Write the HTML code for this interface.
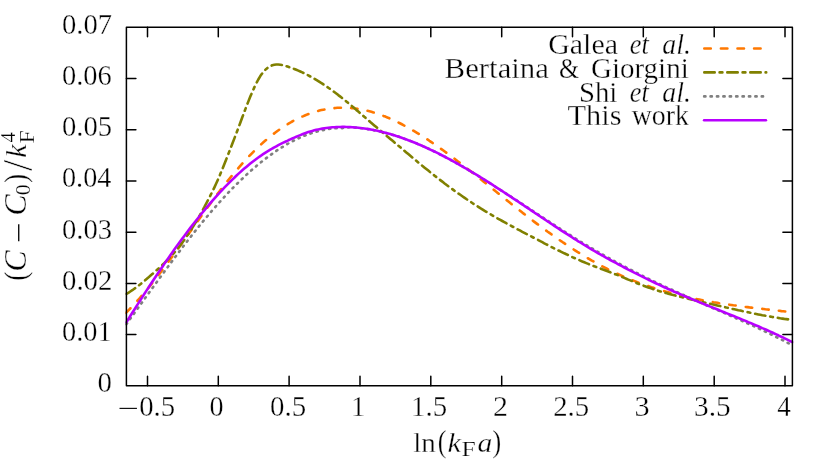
<!DOCTYPE html>
<html><head><meta charset="utf-8"><title>plot</title>
<style>html,body{margin:0;padding:0;background:#fff}svg{display:block}</style></head>
<body>
<svg width="830" height="461" viewBox="0 0 830 461">
<rect width="830" height="461" fill="#fff"/>
<defs><clipPath id="c"><rect x="125.4" y="26.3" width="668.0" height="360.5"/></clipPath></defs>
<g fill="none" stroke-linecap="round" stroke-linejoin="round" stroke-width="2.6" clip-path="url(#c)">
<path d="M125.4,313.4 L127.4,311.4 L129.4,309.3 L131.4,307.3 L133.4,305.1 L135.4,303.0 L137.4,300.7 L139.4,298.5 L141.4,296.2 L143.4,293.8 L145.4,291.5 L147.4,289.1 L149.4,286.6 L151.4,284.1 L153.4,281.6 L155.4,279.1 L157.4,276.5 L159.4,273.9 L161.4,271.3 L163.4,268.6 L165.4,265.9 L167.4,263.2 L169.4,260.5 L171.4,257.8 L173.4,255.1 L175.4,252.3 L177.4,249.5 L179.4,246.7 L181.4,243.9 L183.4,241.1 L185.4,238.3 L187.4,235.5 L189.4,232.7 L191.4,229.9 L193.4,227.1 L195.4,224.3 L197.4,221.5 L199.4,218.7 L201.4,215.9 L203.4,213.1 L205.4,210.4 L207.4,207.6 L209.4,204.9 L211.4,202.2 L213.4,199.5 L215.4,196.8 L217.4,194.1 L219.4,191.5 L221.4,188.9 L223.4,186.3 L225.4,183.8 L227.4,181.2 L229.4,178.8 L231.4,176.3 L233.4,173.9 L235.4,171.5 L237.4,169.2 L239.4,166.9 L241.4,164.6 L243.4,162.4 L245.4,160.2 L247.4,158.0 L249.4,155.9 L251.4,153.8 L253.4,151.8 L255.4,149.8 L257.4,147.9 L259.4,146.0 L261.4,144.1 L263.4,142.3 L265.4,140.6 L267.4,138.9 L269.4,137.2 L271.4,135.6 L273.4,134.0 L275.4,132.5 L277.4,131.0 L279.4,129.6 L281.4,128.2 L283.4,126.9 L285.4,125.6 L287.4,124.4 L289.4,123.2 L291.4,122.0 L293.4,120.9 L295.4,119.8 L297.4,118.8 L299.4,117.9 L301.4,116.9 L303.4,116.1 L305.4,115.2 L307.4,114.4 L309.4,113.7 L311.4,113.0 L313.4,112.3 L315.4,111.7 L317.4,111.2 L319.4,110.6 L321.4,110.1 L323.4,109.7 L325.4,109.3 L327.4,109.0 L329.4,108.7 L331.4,108.4 L333.4,108.2 L335.4,108.0 L337.4,107.8 L339.4,107.8 L341.4,107.7 L343.4,107.7 L345.4,107.7 L347.4,107.8 L349.4,107.9 L351.4,108.1 L353.4,108.3 L355.4,108.5 L357.4,108.8 L359.4,109.1 L361.4,109.5 L363.4,109.9 L365.4,110.3 L367.4,110.8 L369.4,111.3 L371.4,111.8 L373.4,112.4 L375.4,113.0 L377.4,113.7 L379.4,114.4 L381.4,115.1 L383.4,115.9 L385.4,116.6 L387.4,117.5 L389.4,118.3 L391.4,119.2 L393.4,120.1 L395.4,121.0 L397.4,122.0 L399.4,123.0 L401.4,124.0 L403.4,125.1 L405.4,126.1 L407.4,127.2 L409.4,128.3 L411.4,129.5 L413.4,130.7 L415.4,131.9 L417.4,133.1 L419.4,134.3 L421.4,135.6 L423.4,136.8 L425.4,138.1 L427.4,139.4 L429.4,140.8 L431.4,142.1 L433.4,143.5 L435.4,144.9 L437.4,146.3 L439.4,147.7 L441.4,149.1 L443.4,150.5 L445.4,152.0 L447.4,153.5 L449.4,154.9 L451.4,156.4 L453.4,157.9 L455.4,159.4 L457.4,161.0 L459.4,162.5 L461.4,164.0 L463.4,165.6 L465.4,167.1 L467.4,168.7 L469.4,170.3 L471.4,171.8 L473.4,173.4 L475.4,175.0 L477.4,176.6 L479.4,178.2 L481.4,179.8 L483.4,181.4 L485.4,183.0 L487.4,184.6 L489.4,186.2 L491.4,187.8 L493.4,189.4 L495.4,191.1 L497.4,192.7 L499.4,194.3 L501.4,195.9 L503.4,197.5 L505.4,199.1 L507.4,200.7 L509.4,202.3 L511.4,203.9 L513.4,205.5 L515.4,207.1 L517.4,208.7 L519.4,210.2 L521.4,211.8 L523.4,213.4 L525.4,214.9 L527.4,216.5 L529.4,218.0 L531.4,219.5 L533.4,221.1 L535.4,222.6 L537.4,224.1 L539.4,225.6 L541.4,227.1 L543.4,228.5 L545.4,230.0 L547.4,231.5 L549.4,232.9 L551.4,234.3 L553.4,235.8 L555.4,237.2 L557.4,238.6 L559.4,240.0 L561.4,241.3 L563.4,242.7 L565.4,244.0 L567.4,245.4 L569.4,246.7 L571.4,248.0 L573.4,249.3 L575.4,250.6 L577.4,251.9 L579.4,253.1 L581.4,254.3 L583.4,255.6 L585.4,256.8 L587.4,258.0 L589.4,259.1 L591.4,260.3 L593.4,261.4 L595.4,262.6 L597.4,263.7 L599.4,264.8 L601.4,265.9 L603.4,266.9 L605.4,267.9 L607.4,269.0 L609.4,270.0 L611.4,271.0 L613.4,271.9 L615.4,272.9 L617.4,273.8 L619.4,274.7 L621.4,275.6 L623.4,276.5 L625.4,277.3 L627.4,278.2 L629.4,279.0 L631.4,279.8 L633.4,280.6 L635.4,281.4 L637.4,282.2 L639.4,282.9 L641.4,283.7 L643.4,284.4 L645.4,285.1 L647.4,285.8 L649.4,286.5 L651.4,287.2 L653.4,287.8 L655.4,288.5 L657.4,289.1 L659.4,289.7 L661.4,290.3 L663.4,290.9 L665.4,291.5 L667.4,292.0 L669.4,292.6 L671.4,293.1 L673.4,293.7 L675.4,294.2 L677.4,294.7 L679.4,295.2 L681.4,295.7 L683.4,296.1 L685.4,296.6 L687.4,297.1 L689.4,297.5 L691.4,297.9 L693.4,298.4 L695.4,298.8 L697.4,299.2 L699.4,299.6 L701.4,300.0 L703.4,300.4 L705.4,300.7 L707.4,301.1 L709.4,301.5 L711.4,301.8 L713.4,302.2 L715.4,302.5 L717.4,302.8 L719.4,303.2 L721.4,303.5 L723.4,303.8 L725.4,304.1 L727.4,304.4 L729.4,304.7 L731.4,305.0 L733.4,305.3 L735.4,305.5 L737.4,305.8 L739.4,306.1 L741.4,306.3 L743.4,306.6 L745.4,306.9 L747.4,307.1 L749.4,307.4 L751.4,307.6 L753.4,307.9 L755.4,308.1 L757.4,308.3 L759.4,308.6 L761.4,308.8 L763.4,309.0 L765.4,309.3 L767.4,309.5 L769.4,309.7 L771.4,309.9 L773.4,310.2 L775.4,310.4 L777.4,310.6 L779.4,310.8 L781.4,311.1 L783.4,311.3 L785.4,311.5 L786.5,311.6" stroke="#ff7800" stroke-dasharray="6.45 10.205" stroke-dashoffset="15.94"/>
<path d="M126.3,293.9 L128.3,292.8 L130.3,291.5 L132.3,290.2 L134.3,288.8 L136.3,287.4 L138.3,285.8 L140.3,284.3 L142.3,282.7 L144.3,281.0 L146.3,279.3 L148.3,277.6 L150.3,275.8 L152.3,274.1 L154.3,272.3 L156.3,270.5 L158.3,268.7 L160.3,266.9 L162.3,265.0 L164.3,263.1 L166.3,261.1 L168.3,259.1 L170.3,257.0 L172.3,254.8 L174.3,252.6 L176.3,250.3 L178.3,247.8 L180.3,245.3 L182.3,242.6 L184.3,239.9 L186.3,237.0 L188.3,234.0 L190.3,231.0 L192.3,227.8 L194.3,224.6 L196.3,221.3 L198.3,217.9 L200.3,214.4 L202.3,210.8 L204.3,207.2 L206.3,203.4 L208.3,199.6 L210.3,195.7 L212.3,191.7 L214.3,187.6 L216.3,183.3 L218.3,178.8 L220.3,174.1 L222.3,169.3 L224.3,164.3 L226.3,159.2 L228.3,154.1 L230.3,149.0 L232.3,143.8 L234.3,138.6 L236.3,133.4 L238.3,128.1 L240.3,122.7 L242.3,117.3 L244.3,112.0 L246.3,106.7 L248.3,101.6 L250.3,96.6 L252.3,91.9 L254.3,87.4 L256.3,83.3 L258.3,79.5 L260.3,76.1 L262.3,73.3 L264.3,70.8 L266.3,68.9 L268.3,67.3 L270.3,66.1 L272.3,65.3 L274.3,64.8 L276.3,64.5 L278.3,64.5 L280.3,64.7 L282.3,65.0 L284.3,65.5 L286.3,66.1 L288.3,66.8 L290.3,67.5 L292.3,68.2 L294.3,69.0 L296.3,69.8 L298.3,70.6 L300.3,71.5 L302.3,72.4 L304.3,73.4 L306.3,74.4 L308.3,75.4 L310.3,76.5 L312.3,77.6 L314.3,78.7 L316.3,79.9 L318.3,81.1 L320.3,82.4 L322.3,83.6 L324.3,85.0 L326.3,86.3 L328.3,87.7 L330.3,89.1 L332.3,90.6 L334.3,92.0 L336.3,93.5 L338.3,95.1 L340.3,96.6 L342.3,98.2 L344.3,99.8 L346.3,101.4 L348.3,103.1 L350.3,104.8 L352.3,106.4 L354.3,108.1 L356.3,109.9 L358.3,111.6 L360.3,113.3 L362.3,115.0 L364.3,116.8 L366.3,118.5 L368.3,120.2 L370.3,122.0 L372.3,123.7 L374.3,125.4 L376.3,127.1 L378.3,128.8 L380.3,130.5 L382.3,132.2 L384.3,133.9 L386.3,135.6 L388.3,137.2 L390.3,138.9 L392.3,140.6 L394.3,142.3 L396.3,144.0 L398.3,145.7 L400.3,147.3 L402.3,149.0 L404.3,150.7 L406.3,152.4 L408.3,154.1 L410.3,155.8 L412.3,157.5 L414.3,159.1 L416.3,160.8 L418.3,162.5 L420.3,164.1 L422.3,165.8 L424.3,167.4 L426.3,169.0 L428.3,170.6 L430.3,172.3 L432.3,173.8 L434.3,175.4 L436.3,177.0 L438.3,178.6 L440.3,180.1 L442.3,181.6 L444.3,183.2 L446.3,184.7 L448.3,186.2 L450.3,187.6 L452.3,189.1 L454.3,190.6 L456.3,192.0 L458.3,193.4 L460.3,194.8 L462.3,196.2 L464.3,197.6 L466.3,199.0 L468.3,200.3 L470.3,201.6 L472.3,203.0 L474.3,204.3 L476.3,205.6 L478.3,206.8 L480.3,208.1 L482.3,209.3 L484.3,210.6 L486.3,211.8 L488.3,213.0 L490.3,214.2 L492.3,215.3 L494.3,216.5 L496.3,217.6 L498.3,218.8 L500.3,219.9 L502.3,221.0 L504.3,222.1 L506.3,223.2 L508.3,224.3 L510.3,225.4 L512.3,226.5 L514.3,227.5 L516.3,228.6 L518.3,229.7 L520.3,230.7 L522.3,231.8 L524.3,232.8 L526.3,233.9 L528.3,234.9 L530.3,236.0 L532.3,237.0 L534.3,238.1 L536.3,239.1 L538.3,240.1 L540.3,241.2 L542.3,242.2 L544.3,243.3 L546.3,244.3 L548.3,245.3 L550.3,246.3 L552.3,247.4 L554.3,248.4 L556.3,249.4 L558.3,250.4 L560.3,251.3 L562.3,252.3 L564.3,253.3 L566.3,254.2 L568.3,255.2 L570.3,256.1 L572.3,257.1 L574.3,258.0 L576.3,258.9 L578.3,259.7 L580.3,260.6 L582.3,261.5 L584.3,262.3 L586.3,263.1 L588.3,263.9 L590.3,264.7 L592.3,265.5 L594.3,266.3 L596.3,267.0 L598.3,267.8 L600.3,268.5 L602.3,269.3 L604.3,270.0 L606.3,270.8 L608.3,271.5 L610.3,272.3 L612.3,273.1 L614.3,273.9 L616.3,274.6 L618.3,275.4 L620.3,276.3 L622.3,277.1 L624.3,277.9 L626.3,278.7 L628.3,279.6 L630.3,280.4 L632.3,281.2 L634.3,282.1 L636.3,282.9 L638.3,283.7 L640.3,284.5 L642.3,285.2 L644.3,286.0 L646.3,286.7 L648.3,287.4 L650.3,288.1 L652.3,288.8 L654.3,289.5 L656.3,290.1 L658.3,290.8 L660.3,291.4 L662.3,292.0 L664.3,292.6 L666.3,293.1 L668.3,293.7 L670.3,294.2 L672.3,294.8 L674.3,295.3 L676.3,295.8 L678.3,296.3 L680.3,296.8 L682.3,297.3 L684.3,297.8 L686.3,298.3 L688.3,298.7 L690.3,299.2 L692.3,299.7 L694.3,300.1 L696.3,300.6 L698.3,301.1 L700.3,301.5 L702.3,302.0 L704.3,302.4 L706.3,302.9 L708.3,303.4 L710.3,303.8 L712.3,304.3 L714.3,304.7 L716.3,305.2 L718.3,305.7 L720.3,306.1 L722.3,306.6 L724.3,307.0 L726.3,307.5 L728.3,307.9 L730.3,308.4 L732.3,308.9 L734.3,309.3 L736.3,309.7 L738.3,310.2 L740.3,310.6 L742.3,311.1 L744.3,311.5 L746.3,311.9 L748.3,312.3 L750.3,312.8 L752.3,313.2 L754.3,313.6 L756.3,314.0 L758.3,314.4 L760.3,314.8 L762.3,315.2 L764.3,315.5 L766.3,315.9 L768.3,316.3 L770.3,316.6 L772.3,317.0 L774.3,317.3 L776.3,317.6 L778.3,317.9 L780.3,318.3 L782.3,318.6 L784.3,318.9 L786.3,319.1 L788.3,319.4 L790.3,319.7 L792.3,319.9 L792.4,319.9" stroke="#808000" stroke-dasharray="10.4 4.9 2.83 4.9" stroke-dashoffset="22.85"/>
<path d="M126.3,324.3 L128.3,321.5 L130.3,318.7 L132.3,316.0 L134.3,313.2 L136.3,310.4 L138.3,307.6 L140.3,304.8 L142.3,302.1 L144.3,299.3 L146.3,296.5 L148.3,293.7 L150.3,291.0 L152.3,288.2 L154.3,285.4 L156.3,282.7 L158.3,279.9 L160.3,277.2 L162.3,274.4 L164.3,271.7 L166.3,269.0 L168.3,266.3 L170.3,263.6 L172.3,260.9 L174.3,258.2 L176.3,255.6 L178.3,252.9 L180.3,250.3 L182.3,247.6 L184.3,245.0 L186.3,242.4 L188.3,239.8 L190.3,237.3 L192.3,234.7 L194.3,232.2 L196.3,229.7 L198.3,227.2 L200.3,224.7 L202.3,222.3 L204.3,219.9 L206.3,217.5 L208.3,215.1 L210.3,212.7 L212.3,210.4 L214.3,208.1 L216.3,205.8 L218.3,203.6 L220.3,201.3 L222.3,199.1 L224.3,197.0 L226.3,194.8 L228.3,192.7 L230.3,190.6 L232.3,188.5 L234.3,186.5 L236.3,184.5 L238.3,182.5 L240.3,180.6 L242.3,178.7 L244.3,176.8 L246.3,174.9 L248.3,173.1 L250.3,171.3 L252.3,169.5 L254.3,167.8 L256.3,166.1 L258.3,164.4 L260.3,162.8 L262.3,161.2 L264.3,159.6 L266.3,158.1 L268.3,156.6 L270.3,155.1 L272.3,153.7 L274.3,152.3 L276.3,150.9 L278.3,149.6 L280.3,148.3 L282.3,147.1 L284.3,145.9 L286.3,144.7 L288.3,143.5 L290.3,142.4 L292.3,141.4 L294.3,140.3 L296.3,139.4 L298.3,138.4 L300.3,137.5 L302.3,136.6 L304.3,135.8 L306.3,135.0 L308.3,134.3 L310.3,133.6 L312.3,132.9 L314.3,132.3 L316.3,131.7 L318.3,131.1 L320.3,130.6 L322.3,130.2 L324.3,129.8 L326.3,129.4 L328.3,129.1 L330.3,128.8 L332.3,128.6 L334.3,128.4 L336.3,128.2 L338.3,128.1 L340.3,128.1 L342.3,128.1 L344.3,127.9 L345.0,127.7 L346.0,127.5 L348.0,127.4 L350.0,127.2 L352.0,127.3 L354.0,127.5 L356.0,127.6 L358.0,127.8 L360.0,128.0 L362.0,128.3 L364.0,128.5 L366.0,128.8 L368.0,129.1 L370.0,129.4 L372.0,129.8 L374.0,130.2 L376.0,130.6 L378.0,131.0 L380.0,131.5 L382.0,132.0 L384.0,132.5 L386.0,133.0 L388.0,133.5 L390.0,134.1 L392.0,134.7 L394.0,135.3 L396.0,135.9 L398.0,136.5 L400.0,137.2 L402.0,137.9 L404.0,138.6 L406.0,139.3 L408.0,140.1 L410.0,140.8 L412.0,141.6 L414.0,142.4 L416.0,143.2 L418.0,144.1 L420.0,144.9 L422.0,145.8 L424.0,146.7 L426.0,147.6 L428.0,148.5 L430.0,149.4 L432.0,150.4 L434.0,151.3 L436.0,152.3 L438.0,153.3 L440.0,154.3 L442.0,155.3 L444.0,156.4 L446.0,157.4 L448.0,158.5 L450.0,159.6 L452.0,160.6 L454.0,161.7 L456.0,162.8 L458.0,164.0 L460.0,165.1 L462.0,166.2 L464.0,167.4 L466.0,168.6 L468.0,169.7 L470.0,170.9 L472.0,172.1 L474.0,173.3 L476.0,174.5 L478.0,175.8 L480.0,177.0 L482.0,178.2 L484.0,179.5 L486.0,180.7 L488.0,182.0 L490.0,183.2 L492.0,184.5 L494.0,185.8 L496.0,187.1 L498.0,188.4 L500.0,189.7 L502.0,190.9 L504.0,192.2 L506.0,193.5 L508.0,194.8 L510.0,196.1 L512.0,197.4 L514.0,198.7 L516.0,200.0 L518.0,201.3 L520.0,202.6 L522.0,203.9 L524.0,205.2 L526.0,206.5 L528.0,207.8 L530.0,209.1 L532.0,210.5 L534.0,211.8 L536.0,213.1 L538.0,214.4 L540.0,215.7 L542.0,217.0 L544.0,218.3 L546.0,219.6 L548.0,220.9 L550.0,222.2 L552.0,223.5 L554.0,224.8 L556.0,226.1 L558.0,227.4 L560.0,228.7 L562.0,230.0 L564.0,231.2 L566.0,232.5 L568.0,233.8 L570.0,235.0 L572.0,236.3 L574.0,237.5 L576.0,238.8 L578.0,240.0 L580.0,241.3 L582.0,242.5 L584.0,243.7 L586.0,244.9 L588.0,246.1 L590.0,247.3 L592.0,248.4 L594.0,249.6 L596.0,250.7 L598.0,251.9 L600.0,253.0 L602.0,254.2 L604.0,255.3 L606.0,256.4 L608.0,257.6 L610.0,258.7 L612.0,259.8 L614.0,260.9 L616.0,262.0 L618.0,263.0 L620.0,264.1 L622.0,265.2 L624.0,266.2 L626.0,267.3 L628.0,268.4 L630.0,269.4 L632.0,270.4 L634.0,271.5 L636.0,272.5 L638.0,273.5 L640.0,274.5 L642.0,275.6 L644.0,276.6 L646.0,277.6 L648.0,278.5 L650.0,279.5 L652.0,280.5 L654.0,281.5 L656.0,282.4 L658.0,283.4 L660.0,284.3 L662.0,285.2 L664.0,286.2 L666.0,287.1 L668.0,288.0 L670.0,288.9 L672.0,289.8 L674.0,290.7 L676.0,291.6 L678.0,292.5 L680.0,293.4 L682.0,294.3 L684.0,295.2 L686.0,296.1 L688.0,297.0 L690.0,297.9 L692.0,298.8 L694.0,299.8 L696.0,300.7 L698.0,301.6 L700.0,302.4 L702.0,303.3 L704.0,304.2 L706.0,305.1 L708.0,306.0 L710.0,306.8 L712.0,307.7 L714.0,308.6 L716.0,309.5 L718.0,310.3 L720.0,311.2 L722.0,312.1 L724.0,312.9 L726.0,313.8 L728.0,314.7 L730.0,315.6 L732.0,316.4 L734.0,317.3 L736.0,318.2 L738.0,319.1 L740.0,320.0 L742.0,320.9 L744.0,321.8 L746.0,322.7 L748.0,323.6 L750.0,324.5 L752.0,325.4 L754.0,326.3 L756.0,327.3 L758.0,328.2 L760.0,329.1 L762.0,330.1 L764.0,331.0 L766.0,332.0 L768.0,333.0 L770.0,333.9 L772.0,334.9 L774.0,335.9 L776.0,336.9 L778.0,337.9 L780.0,338.9 L782.0,339.9 L784.0,340.9 L786.0,342.0 L788.0,343.0 L790.0,343.9 L792.0,345.1 L792.4,345.3" stroke="#808080" stroke-dasharray="1.3 5.1"/>
<path d="M126.3,322.4 L128.3,319.2 L130.3,316.0 L132.3,312.8 L134.3,309.7 L136.3,306.5 L138.3,303.4 L140.3,300.2 L142.3,297.1 L144.3,294.0 L146.3,290.9 L148.3,287.9 L150.3,284.8 L152.3,281.8 L154.3,278.8 L156.3,275.8 L158.3,272.8 L160.3,269.8 L162.3,266.9 L164.3,263.9 L166.3,261.0 L168.3,258.2 L170.3,255.3 L172.3,252.4 L174.3,249.6 L176.3,246.8 L178.3,244.1 L180.3,241.3 L182.3,238.6 L184.3,235.9 L186.3,233.2 L188.3,230.5 L190.3,227.9 L192.3,225.3 L194.3,222.8 L196.3,220.2 L198.3,217.7 L200.3,215.2 L202.3,212.7 L204.3,210.3 L206.3,207.9 L208.3,205.5 L210.3,203.2 L212.3,200.9 L214.3,198.6 L216.3,196.4 L218.3,194.2 L220.3,192.0 L222.3,189.8 L224.3,187.7 L226.3,185.6 L228.3,183.6 L230.3,181.6 L232.3,179.6 L234.3,177.7 L236.3,175.8 L238.3,173.9 L240.3,172.1 L242.3,170.3 L244.3,168.6 L246.3,166.9 L248.3,165.2 L250.3,163.6 L252.3,162.0 L254.3,160.5 L256.3,159.0 L258.3,157.5 L260.3,156.1 L262.3,154.7 L264.3,153.4 L266.3,152.1 L268.3,150.9 L270.3,149.7 L272.3,148.5 L274.3,147.4 L276.3,146.3 L278.3,145.2 L280.3,144.2 L282.3,143.2 L284.3,142.2 L286.3,141.3 L288.3,140.3 L290.3,139.4 L292.3,138.5 L294.3,137.6 L296.3,136.7 L298.3,135.9 L300.3,135.1 L302.3,134.3 L304.3,133.5 L306.3,132.8 L308.3,132.1 L310.3,131.5 L312.3,130.9 L314.3,130.3 L316.3,129.8 L318.3,129.4 L320.3,129.0 L322.3,128.6 L324.3,128.3 L326.3,128.0 L328.3,127.7 L330.3,127.5 L332.3,127.3 L334.3,127.2 L336.3,127.1 L338.3,127.0 L340.3,127.0 L342.3,126.9 L344.3,126.9 L346.3,127.0 L348.3,127.0 L350.3,127.1 L352.3,127.2 L354.3,127.4 L356.3,127.5 L358.3,127.7 L360.3,128.0 L362.3,128.2 L364.3,128.5 L366.3,128.8 L368.3,129.1 L370.3,129.4 L372.3,129.8 L374.3,130.2 L376.3,130.6 L378.3,131.0 L380.3,131.5 L382.3,132.0 L384.3,132.5 L386.3,133.0 L388.3,133.6 L390.3,134.1 L392.3,134.7 L394.3,135.3 L396.3,136.0 L398.3,136.6 L400.3,137.3 L402.3,138.0 L404.3,138.7 L406.3,139.4 L408.3,140.2 L410.3,140.9 L412.3,141.7 L414.3,142.5 L416.3,143.3 L418.3,144.2 L420.3,145.0 L422.3,145.9 L424.3,146.8 L426.3,147.7 L428.3,148.6 L430.3,149.6 L432.3,150.5 L434.3,151.5 L436.3,152.4 L438.3,153.4 L440.3,154.5 L442.3,155.5 L444.3,156.5 L446.3,157.6 L448.3,158.6 L450.3,159.7 L452.3,160.8 L454.3,161.9 L456.3,163.0 L458.3,164.1 L460.3,165.3 L462.3,166.4 L464.3,167.6 L466.3,168.7 L468.3,169.9 L470.3,171.1 L472.3,172.3 L474.3,173.5 L476.3,174.7 L478.3,175.9 L480.3,177.2 L482.3,178.4 L484.3,179.6 L486.3,180.9 L488.3,182.2 L490.3,183.4 L492.3,184.7 L494.3,186.0 L496.3,187.3 L498.3,188.6 L500.3,189.9 L502.3,191.2 L504.3,192.5 L506.3,193.8 L508.3,195.1 L510.3,196.4 L512.3,197.8 L514.3,199.1 L516.3,200.4 L518.3,201.7 L520.3,203.1 L522.3,204.4 L524.3,205.8 L526.3,207.1 L528.3,208.4 L530.3,209.8 L532.3,211.1 L534.3,212.5 L536.3,213.8 L538.3,215.2 L540.3,216.5 L542.3,217.8 L544.3,219.2 L546.3,220.5 L548.3,221.8 L550.3,223.2 L552.3,224.5 L554.3,225.8 L556.3,227.1 L558.3,228.5 L560.3,229.8 L562.3,231.1 L564.3,232.4 L566.3,233.7 L568.3,234.9 L570.3,236.2 L572.3,237.5 L574.3,238.8 L576.3,240.0 L578.3,241.3 L580.3,242.5 L582.3,243.7 L584.3,245.0 L586.3,246.2 L588.3,247.4 L590.3,248.6 L592.3,249.8 L594.3,250.9 L596.3,252.1 L598.3,253.3 L600.3,254.4 L602.3,255.5 L604.3,256.7 L606.3,257.8 L608.3,258.9 L610.3,260.0 L612.3,261.1 L614.3,262.2 L616.3,263.2 L618.3,264.3 L620.3,265.4 L622.3,266.4 L624.3,267.5 L626.3,268.5 L628.3,269.6 L630.3,270.6 L632.3,271.6 L634.3,272.7 L636.3,273.7 L638.3,274.7 L640.3,275.7 L642.3,276.7 L644.3,277.7 L646.3,278.7 L648.3,279.7 L650.3,280.6 L652.3,281.6 L654.3,282.5 L656.3,283.5 L658.3,284.4 L660.3,285.4 L662.3,286.3 L664.3,287.2 L666.3,288.1 L668.3,289.0 L670.3,289.9 L672.3,290.8 L674.3,291.7 L676.3,292.5 L678.3,293.4 L680.3,294.2 L682.3,295.1 L684.3,296.0 L686.3,296.8 L688.3,297.6 L690.3,298.5 L692.3,299.3 L694.3,300.1 L696.3,300.9 L698.3,301.8 L700.3,302.6 L702.3,303.4 L704.3,304.2 L706.3,305.0 L708.3,305.8 L710.3,306.6 L712.3,307.4 L714.3,308.2 L716.3,309.0 L718.3,309.8 L720.3,310.6 L722.3,311.5 L724.3,312.3 L726.3,313.1 L728.3,313.9 L730.3,314.7 L732.3,315.5 L734.3,316.3 L736.3,317.1 L738.3,317.9 L740.3,318.8 L742.3,319.6 L744.3,320.4 L746.3,321.2 L748.3,322.1 L750.3,322.9 L752.3,323.8 L754.3,324.6 L756.3,325.5 L758.3,326.3 L760.3,327.2 L762.3,328.1 L764.3,328.9 L766.3,329.8 L768.3,330.7 L770.3,331.6 L772.3,332.5 L774.3,333.5 L776.3,334.4 L778.3,335.3 L780.3,336.3 L782.3,337.2 L784.3,338.2 L786.3,339.1 L788.3,340.1 L790.3,341.1 L792.3,342.1 L792.5,342.2" stroke="#b800ff"/>
</g>
<g fill="none" stroke-linecap="round" stroke-width="2.6">
<path d="M704.3,48.45H767" stroke="#ff7800" stroke-dasharray="6.5 10.1"/>
<path d="M704.3,72.4H766.2" stroke="#808000" stroke-dasharray="10.4 4.9 2.8 4.9"/>
<path d="M704.15,96.4H767" stroke="#808080" stroke-dasharray="1.3 5.1"/>
<path d="M704.1,120.3H765.9" stroke="#b800ff"/>
</g>
<g stroke="#000" stroke-width="1.5" fill="none" stroke-linecap="round" stroke-linejoin="round">
<rect x="126.4" y="27.3" width="666.0" height="358.5"/>
<path d="M126.4,334.6h9.5M792.4,334.6h-9.5"/>
<path d="M126.4,283.4h9.5M792.4,283.4h-9.5"/>
<path d="M126.4,232.2h9.5M792.4,232.2h-9.5"/>
<path d="M126.4,181.0h9.5M792.4,181.0h-9.5"/>
<path d="M126.4,129.8h9.5M792.4,129.8h-9.5"/>
<path d="M126.4,78.5h9.5M792.4,78.5h-9.5"/>
<path d="M147.5,385.8v-9.5M147.5,27.3v9.5"/>
<path d="M218.3,385.8v-9.5M218.3,27.3v9.5"/>
<path d="M289.1,385.8v-9.5M289.1,27.3v9.5"/>
<path d="M360.0,385.8v-9.5M360.0,27.3v9.5"/>
<path d="M430.8,385.8v-9.5M430.8,27.3v9.5"/>
<path d="M501.7,385.8v-9.5M501.7,27.3v9.5"/>
<path d="M572.5,385.8v-9.5M572.5,27.3v9.5"/>
<path d="M643.3,385.8v-9.5M643.3,27.3v9.5"/>
<path d="M714.2,385.8v-9.5M714.2,27.3v9.5"/>
<path d="M785.0,385.8v-9.5M785.0,27.3v9.5"/>
</g>
<g font-family="Liberation Serif, serif" fill="#000" stroke="#fff" stroke-width="0.32" stroke-linejoin="round" opacity="0.999">
<text transform="translate(97.60,392.15) scale(1.0041,1.0000)" font-size="28.7">0</text>
<text transform="translate(62.01,340.94) scale(0.9895,1.0000)" font-size="28.7">0.01</text>
<text transform="translate(62.00,289.73) scale(1.0031,1.0000)" font-size="28.7">0.02</text>
<text transform="translate(62.00,238.52) scale(0.9979,1.0000)" font-size="28.7">0.03</text>
<text transform="translate(62.02,187.31) scale(0.9826,1.0000)" font-size="28.7">0.04</text>
<text transform="translate(62.00,136.10) scale(0.9979,1.0000)" font-size="28.7">0.05</text>
<text transform="translate(62.01,84.89) scale(0.9927,1.0000)" font-size="28.7">0.06</text>
<text transform="translate(62.00,33.68) scale(0.9979,1.0000)" font-size="28.7">0.07</text>
<text transform="translate(209.42,416.00) scale(0.9796,1.0000)" font-size="28.7">0</text>
<text transform="translate(269.99,416.00) scale(1.0074,1.0000)" font-size="28.7">0.5</text>
<text transform="translate(351.10,416.00) scale(1.0000,1.0000)" font-size="28.7">1</text>
<text transform="translate(411.09,416.00) scale(1.0047,1.0000)" font-size="28.7">1.5</text>
<text transform="translate(493.10,416.00) scale(1.0435,1.0000)" font-size="28.7">2</text>
<text transform="translate(553.15,416.00) scale(1.0030,1.0000)" font-size="28.7">2.5</text>
<text transform="translate(634.42,416.00) scale(1.0553,1.0000)" font-size="28.7">3</text>
<text transform="translate(694.07,416.00) scale(1.0226,1.0000)" font-size="28.7">3.5</text>
<text transform="translate(777.13,416.00) scale(0.9481,1.0000)" font-size="28.7">4</text>
<text transform="translate(139.20,416.00) scale(1.0015,1.0000)" font-size="28.7">0.5</text>
<text transform="translate(548.18,54.20) scale(1.0558,1.0000)" font-size="28.4">Galea</text>
<text transform="translate(629.87,54.20) scale(0.9300,1.0000)" font-size="28.4"><tspan font-style="italic">et</tspan></text>
<text transform="translate(662.26,54.20) scale(0.9825,1.0000)" font-size="28.4"><tspan font-style="italic">al.</tspan></text>
<text transform="translate(444.59,77.80) scale(1.0853,1.0000)" font-size="28.4">Bertaina</text>
<text transform="translate(559.09,77.80) scale(0.9122,1.0000)" font-size="28.4">&amp;</text>
<text transform="translate(590.92,77.80) scale(1.0223,1.0000)" font-size="28.4">Giorgini</text>
<text transform="translate(578.97,101.50) scale(1.0128,1.0000)" font-size="28.4">Shi</text>
<text transform="translate(629.87,101.50) scale(0.9300,1.0000)" font-size="28.4"><tspan font-style="italic">et</tspan></text>
<text transform="translate(662.26,101.50) scale(0.9825,1.0000)" font-size="28.4"><tspan font-style="italic">al.</tspan></text>
<text transform="translate(567.57,125.40) scale(1.0673,1.0000)" font-size="28.4">This</text>
<text transform="translate(631.70,125.40) scale(0.9803,1.0000)" font-size="28.4">work</text>
<text transform="translate(413.29,451.80) scale(1.0212,0.9873)" font-size="28.4">ln</text>
<text transform="translate(437.84,451.89) scale(0.9241,1.1176)" font-size="28.4">(</text>
<text transform="translate(447.39,451.80) scale(1.0776,0.9873)" font-size="28.4"><tspan font-style="italic">k</tspan></text>
<text transform="translate(461.56,455.80) scale(1.2800,1.1000)" font-size="20" stroke-width="0.2">F</text>
<text transform="translate(477.42,451.76) scale(1.0449,0.9630)" font-size="28.4"><tspan font-style="italic">a</tspan></text>
<text transform="translate(492.35,451.89) scale(0.9517,1.1176)" font-size="28.4">)</text>
<text transform="translate(26.29,280.71) rotate(-90) scale(0.9655,1.1176)" font-size="28.4">(</text>
<text transform="translate(26.23,271.69) rotate(-90) scale(1.1268,1.0789)" font-size="28.4"><tspan font-style="italic">C</tspan></text>
<text transform="translate(27.50,242.92) rotate(-90) scale(1.2830,0.9600)" font-size="28.4" stroke="none">−</text>
<text transform="translate(26.23,215.69) rotate(-90) scale(1.1268,1.0789)" font-size="28.4"><tspan font-style="italic">C</tspan></text>
<text transform="translate(29.74,195.32) rotate(-90) scale(1.0941,1.0370)" font-size="20" stroke-width="0.2">0</text>
<text transform="translate(25.98,182.97) rotate(-90) scale(0.9655,1.0863)" font-size="28.4">)</text>
<text transform="translate(32.14,171.00) rotate(-90) scale(1.4194,1.4579)" font-size="28.4">/</text>
<text transform="translate(26.20,157.80) rotate(-90) scale(1.0612,1.0127)" font-size="28.4"><tspan font-style="italic">k</tspan></text>
<text transform="translate(15.00,142.51) rotate(-90) scale(1.0270,1.0415)" font-size="20" stroke-width="0.2">4</text>
<text transform="translate(34.00,143.60) rotate(-90) scale(1.2000,1.0769)" font-size="20" stroke-width="0.2">F</text>
<text transform="translate(117.84,415.70) scale(1.3057,0.8000)" font-size="28.7" stroke="none">−</text>
</g>
</svg>
</body></html>
